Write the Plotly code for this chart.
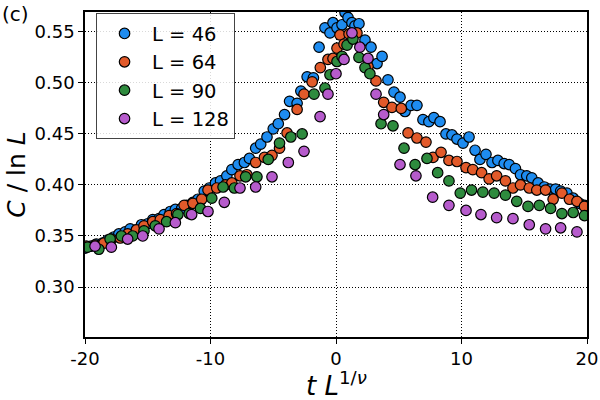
import plotly.graph_objects as go

# ---- data ----
x46 = [-20.0, -19.5, -19.1, -18.6, -18.2, -17.7, -17.3, -16.8, -16.4, -15.9, -15.5, -15.0, -14.6, -14.1,
       -13.7, -13.2, -12.8, -12.3, -11.9, -11.4, -11.0, -10.5, -10.1, -9.6, -9.2, -8.7, -8.3, -7.8, -7.3,
       -6.9, -6.4, -6.0, -5.5, -5.0, -4.6, -4.1, -3.7, -3.1, -2.8, -2.3, -1.8, -1.35, -0.88, -0.48, -0.24,
       0.08, 0.48, 0.72, 0.96, 1.27, 1.51, 1.83, 2.31, 2.79, 3.27, 3.67, 4.14, 4.62, 5.1, 5.5, 5.98, 6.45,
       6.93, 7.4, 7.8, 8.29, 8.76, 9.24, 9.64, 10.12, 10.6, 11.08, 11.47, 11.95, 12.43, 12.9, 13.4, 13.8,
       14.3, 14.7, 15.2, 15.6, 16.1, 16.6, 17.05, 17.5, 17.9, 18.4, 18.9, 19.4, 19.8]
y46 = [0.338, 0.340, 0.342, 0.343, 0.346, 0.349, 0.352, 0.354, 0.357, 0.356, 0.361, 0.362, 0.366, 0.367,
       0.371, 0.374, 0.376, 0.377, 0.380, 0.383, 0.386, 0.394, 0.397, 0.402, 0.404, 0.409, 0.415, 0.420, 0.422,
       0.426, 0.436, 0.440, 0.447, 0.455, 0.460, 0.469, 0.482, 0.480, 0.492, 0.506, 0.505, 0.535, 0.554, 0.549, 0.559,
       0.554, 0.557, 0.569, 0.564, 0.559, 0.556, 0.558, 0.542, 0.535, 0.519, 0.526, 0.503, 0.491, 0.486, 0.472, 0.478, 0.478,
       0.464, 0.462, 0.466, 0.462, 0.450, 0.449, 0.445, 0.441, 0.447, 0.434, 0.425, 0.430, 0.422, 0.424, 0.421, 0.420,
       0.416, 0.410, 0.409, 0.407, 0.402, 0.398, 0.396, 0.396, 0.394, 0.392, 0.387, 0.382, 0.380]

x64 = [-19.9, -19.2, -18.5, -17.9, -17.2, -16.6, -15.9, -15.3, -14.6, -14.0, -13.3, -12.7, -12.1, -11.4,
       -10.7, -10.2, -9.5, -8.8, -8.3, -7.65, -7.1, -6.4, -5.7, -5.1, -4.5, -3.9, -3.1, -2.55, -1.9, -1.25,
       -0.64, -0.24, 0.08, 0.32, 0.64, 1.04, 1.67, 2.55, 3.19, 3.8, 4.46, 5.2, 5.74, 6.45, 7.17, 7.73, 8.37,
       9.0, 9.64, 10.36, 10.9, 11.6, 12.2, 12.8, 13.5, 14.1, 14.7, 15.4, 16.0, 16.7, 17.3, 18.0, 18.6, 19.2, 19.8]
y64 = [0.340, 0.341, 0.343, 0.347, 0.348, 0.352, 0.356, 0.360, 0.364, 0.366, 0.370, 0.372, 0.380, 0.382,
       0.386, 0.395, 0.397, 0.400, 0.402, 0.409, 0.410, 0.422, 0.427, 0.429, 0.436, 0.451, 0.474, 0.489, 0.501, 0.515,
       0.523, 0.524, 0.534, 0.547, 0.538, 0.548, 0.549, 0.516, 0.502, 0.481, 0.476, 0.475, 0.451, 0.446, 0.442, 0.427, 0.432,
       0.424, 0.423, 0.417, 0.415, 0.412, 0.406, 0.409, 0.404, 0.397, 0.400, 0.397, 0.395, 0.395, 0.386, 0.392, 0.386, 0.384, 0.379]

x90 = [-19.8, -18.9, -18.0, -17.1, -16.2, -15.3, -14.4, -13.5, -12.6, -11.7, -10.8, -9.9, -9.0, -8.1, -7.2,
       -6.3, -5.4, -4.5, -3.6, -2.7, -1.75, -0.88, -0.48, 0.08, 0.48, 0.88, 1.35, 1.83, 2.31, 2.7, 3.59, 4.54,
       5.42, 6.3, 7.25, 8.1, 9.0, 9.9, 10.8, 11.7, 12.6, 13.5, 14.4, 15.3, 16.2, 17.1, 18.0, 18.9, 19.8]
y90 = [0.339, 0.337, 0.347, 0.350, 0.350, 0.355, 0.360, 0.364, 0.371, 0.372, 0.377, 0.387, 0.398, 0.397, 0.408,
       0.408, 0.425, 0.441, 0.447, 0.450, 0.489, 0.495, 0.508, 0.521, 0.526, 0.537, 0.543, 0.525, 0.515, 0.509, 0.460, 0.458,
       0.436, 0.420, 0.426, 0.412, 0.404, 0.392, 0.395, 0.393, 0.392, 0.390, 0.384, 0.379, 0.380, 0.377, 0.372, 0.373, 0.370]

x128 = [-19.2, -17.9, -16.6, -15.4, -14.1, -12.8, -11.5, -10.2, -8.9, -7.65, -6.4, -5.1, -3.8, -2.55, -1.27,
        -0.64, 0.0, 0.64, 1.27, 1.9, 2.55, 3.19, 3.8, 5.1, 6.37, 7.7, 9.0, 10.36, 11.55, 12.8, 14.1, 15.4, 16.7,
        17.9, 19.2]
y128 = [0.340, 0.339, 0.347, 0.350, 0.357, 0.363, 0.371, 0.374, 0.383, 0.397, 0.398, 0.408, 0.422, 0.433, 0.467,
        0.489, 0.509, 0.523, 0.549, 0.535, 0.524, 0.489, 0.469, 0.420, 0.409, 0.388, 0.380, 0.375, 0.371, 0.368, 0.367, 0.361, 0.357,
        0.358, 0.354]

names = ["L = 46", "L = 64", "L = 90", "L = 128"]
colors = ["#1e8cf0", "#e25a2a", "#2e8b3e", "#b65bcc"]
xs = [x46, x64, x90, x128]
ys = [y46, y64, y90, y128]

x_ticks = [-20, -10, 0, 10, 20]
y_ticks = [0.30, 0.35, 0.40, 0.45, 0.50, 0.55]

fig = go.Figure()
for name, c, xv, yv in zip(names, colors, xs, ys):
    fig.add_trace(go.Scatter(
        x=xv, y=yv, mode="markers", name=name,
        marker=dict(size=10.5, color=c, line=dict(color="black", width=1.2)),
    ))

axis_common = dict(
    showline=True, linecolor="black", linewidth=1.5, mirror=True,
    ticks="outside", ticklen=5, tickwidth=1.2, tickcolor="black",
    showgrid=True, gridcolor="black", gridwidth=1, griddash="1px,2px",
    zeroline=False, tickfont=dict(size=18, color="black"), automargin=False,
)

fig.update_layout(
    width=600, height=400,
    margin=dict(l=85, r=13, t=12, b=63),
    paper_bgcolor="white", plot_bgcolor="white",
    font=dict(family="DejaVu Sans", color="black"),
    xaxis=dict(range=[-20, 20], tickvals=x_ticks, ticktext=[str(v) for v in x_ticks], **axis_common),
    yaxis=dict(range=[0.251, 0.5695], tickvals=y_ticks, tickformat=".2f", **axis_common),
    legend=dict(x=0.022, y=0.996, xanchor="left", yanchor="top",
                bgcolor="rgba(255,255,255,0.85)", bordercolor="#444", borderwidth=1,
                font=dict(size=19.5), itemwidth=45, tracegroupgap=0),
    showlegend=True,
)

fig.add_annotation(text="<i>t L</i><sup>1/<i>ν</i></sup>", xref="paper", yref="paper",
                   x=0.5, y=-0.145, xanchor="center", yanchor="middle", showarrow=False,
                   font=dict(size=26))
fig.add_annotation(text="<i>C</i> / ln <i>L</i>", xref="paper", yref="paper",
                   x=-0.137, y=0.5, xanchor="center", yanchor="middle", showarrow=False,
                   textangle=-90, font=dict(size=25))
fig.add_annotation(text="(c)", xref="paper", yref="paper", x=-0.169, y=1.037,
                   xanchor="left", yanchor="top", showarrow=False, font=dict(size=20))

fig.write_html("out.html", config={"displayModeBar": False},
               post_script="document.body.style.margin='0';document.body.style.overflow='hidden';")
